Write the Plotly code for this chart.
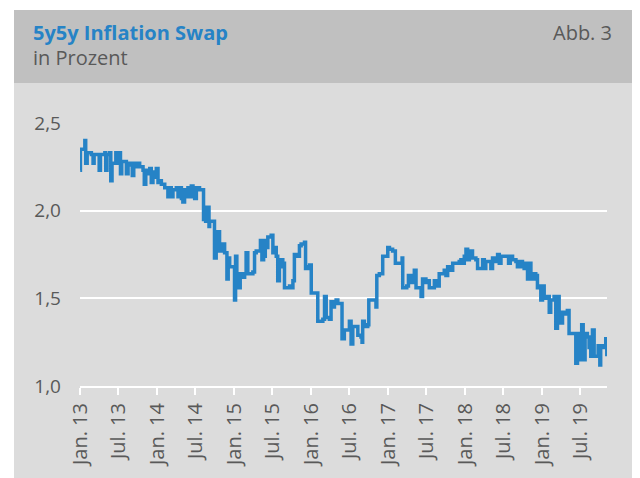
import pandas as pd
import plotly.graph_objects as go

# Data: days since 2013-01-01 at which a new level starts, and the level (%)
days = [0, 1, 22, 26, 33, 53, 61, 66, 90, 96, 117, 121, 127, 140, 145, 151, 169, 175, 184, 191,
        197, 219, 227, 243, 247, 254, 266, 274, 282, 298, 304, 311, 322, 330, 337, 345, 353, 361,
        369, 377, 385, 401, 416, 424, 432, 440, 456, 464, 472, 480, 487, 495, 503, 511, 519, 527,
        535, 543, 551, 559, 566, 585, 595, 601, 611, 614, 637, 645, 661, 669, 685, 696, 702, 709,
        732, 737, 743, 753, 759, 772, 780, 787, 795, 819, 827, 835, 855, 862, 870, 878, 885, 890,
        906, 914, 922, 930, 937, 945, 953, 961, 969, 993, 1001, 1009, 1016, 1024, 1040, 1048, 1064,
        1069, 1080, 1088, 1096, 1127, 1151, 1159, 1167, 1182, 1190, 1198, 1206, 1214, 1222, 1242,
        1253, 1277, 1285, 1293, 1317, 1332, 1337, 1340, 1348, 1364, 1369, 1403, 1407, 1419, 1435,
        1459, 1467, 1482, 1495, 1527, 1530, 1549, 1557, 1569, 1585, 1593, 1617, 1624, 1640, 1648,
        1656, 1680, 1696, 1703, 1727, 1735, 1743, 1759, 1767, 1798, 1806, 1814, 1822, 1830, 1838,
        1846, 1853, 1861, 1877, 1885, 1909, 1917, 1924, 1948, 1956, 1969, 1980, 1988, 1996, 2032,
        2040, 2051, 2067, 2074, 2082, 2098, 2106, 2114, 2122, 2130, 2138, 2145, 2153, 2161, 2169,
        2177, 2185, 2193, 2201, 2217, 2225, 2232, 2248, 2256, 2264, 2272, 2288, 2303, 2311, 2319,
        2351, 2359, 2367, 2375, 2379, 2386, 2395, 2406, 2414, 2422, 2430, 2438, 2457, 2465, 2469,
        2485, 2493, 2498]
values = [2.23, 2.35, 2.40, 2.27, 2.33, 2.32, 2.27, 2.32, 2.23, 2.32, 2.33, 2.23, 2.32, 2.33, 2.17,
          2.27, 2.33, 2.27, 2.33, 2.21, 2.28, 2.21, 2.27, 2.26, 2.20, 2.27, 2.25, 2.27, 2.25, 2.23,
          2.15, 2.23, 2.21, 2.24, 2.16, 2.22, 2.19, 2.24, 2.16, 2.17, 2.15, 2.13, 2.08, 2.13, 2.08,
          2.12, 2.13, 2.08, 2.13, 2.07, 2.05, 2.12, 2.08, 2.13, 2.08, 2.14, 2.13, 2.07, 2.12, 2.13,
          2.12, 1.95, 1.94, 2.02, 1.91, 1.94, 1.73, 1.88, 1.77, 1.81, 1.76, 1.61, 1.73, 1.68, 1.49,
          1.74, 1.63, 1.56, 1.64, 1.62, 1.64, 1.76, 1.64, 1.65, 1.76, 1.77, 1.83, 1.72, 1.74, 1.83,
          1.79, 1.85, 1.86, 1.76, 1.79, 1.74, 1.60, 1.68, 1.72, 1.70, 1.56, 1.57, 1.56, 1.60, 1.75,
          1.74, 1.80, 1.81, 1.82, 1.67, 1.68, 1.69, 1.53, 1.37, 1.38, 1.51, 1.39, 1.38, 1.48, 1.45,
          1.48, 1.49, 1.47, 1.27, 1.32, 1.37, 1.24, 1.34, 1.29, 1.28, 1.25, 1.37, 1.34, 1.35, 1.49,
          1.45, 1.63, 1.64, 1.74, 1.79, 1.78, 1.77, 1.70, 1.73, 1.56, 1.57, 1.63, 1.59, 1.66, 1.56,
          1.51, 1.61, 1.59, 1.60, 1.56, 1.60, 1.57, 1.64, 1.66, 1.63, 1.68, 1.66, 1.70, 1.71, 1.72,
          1.70, 1.74, 1.78, 1.72, 1.75, 1.77, 1.73, 1.72, 1.67, 1.72, 1.67, 1.71, 1.67, 1.73, 1.71,
          1.75, 1.70, 1.74, 1.70, 1.74, 1.72, 1.71, 1.68, 1.71, 1.68, 1.67, 1.70, 1.61, 1.70, 1.64,
          1.61, 1.64, 1.63, 1.56, 1.57, 1.49, 1.57, 1.50, 1.51, 1.42, 1.49, 1.51, 1.33, 1.51, 1.36,
          1.42, 1.41, 1.43, 1.30, 1.13, 1.30, 1.26, 1.15, 1.35, 1.15, 1.30, 1.28, 1.22, 1.17, 1.32,
          1.17, 1.23, 1.12, 1.23, 1.22, 1.27, 1.17]

tick_dates = ["2013-01-01", "2013-07-01", "2014-01-01", "2014-07-01", "2015-01-01", "2015-07-01",
              "2016-01-01", "2016-07-01", "2017-01-01", "2017-07-01", "2018-01-01", "2018-07-01",
              "2019-01-01", "2019-07-01"]
tick_labels = ["Jan. 13", "Jul. 13", "Jan. 14", "Jul. 14", "Jan. 15", "Jul. 15", "Jan. 16",
               "Jul. 16", "Jan. 17", "Jul. 17", "Jan. 18", "Jul. 18", "Jan. 19", "Jul. 19"]
y_ticks = [1.0, 1.5, 2.0, 2.5]

dates = pd.Timestamp("2013-01-01") + pd.to_timedelta(days, unit="D")

BLUE = "#2683C6"
TXT = "#595959"
FONT = "Open Sans"

# The page places the figure 8px from the top-left corner, so layout is in figure px (= screen px - 8)
W, H = 640, 478
ML, MR, MT, MB = 72, 41, 115, 100
plot_w = W - ML - MR
plot_h = H - MT - MB


def px_x(px):
    return (px - 8 - ML) / plot_w


def px_y(py):
    return (H - MB - (py - 8)) / plot_h


fig = go.Figure()
fig.add_trace(go.Scatter(x=dates, y=values, mode="lines", line=dict(color=BLUE, width=3.5, shape="hv"),
                         hoverinfo="skip", showlegend=False))

fig.update_layout(
    width=W, height=H,
    margin=dict(l=ML, r=MR, t=MT, b=MB),
    paper_bgcolor="white",
    plot_bgcolor="rgba(0,0,0,0)",
    separators=",.",
    font=dict(family=FONT, color=TXT),
)

fig.add_shape(type="rect", xref="paper", yref="paper", x0=px_x(14), x1=px_x(660), y0=px_y(500), y1=px_y(83),
              layer="below", line=dict(width=0), fillcolor="#DCDCDC")
fig.add_shape(type="rect", xref="paper", yref="paper", x0=px_x(14), x1=px_x(660), y0=px_y(83), y1=px_y(10),
              layer="below", line=dict(width=0), fillcolor="#C0C0C0")

fig.add_annotation(text="<b>5y5y Inflation Swap</b>", xref="paper", yref="paper", x=px_x(31), y=px_y(33),
                   xanchor="left", yanchor="middle", showarrow=False, font=dict(size=20, color=BLUE, family=FONT))
fig.add_annotation(text="in Prozent", xref="paper", yref="paper", x=px_x(31), y=px_y(57),
                   xanchor="left", yanchor="middle", showarrow=False, font=dict(size=20, color=TXT, family=FONT))
fig.add_annotation(text="Abb. 3", xref="paper", yref="paper", x=px_x(614), y=px_y(33),
                   xanchor="right", yanchor="middle", showarrow=False, font=dict(size=20, color=TXT, family=FONT))

fig.update_xaxes(
    type="date",
    range=[pd.Timestamp("2012-12-31"), pd.Timestamp("2013-01-01") + pd.Timedelta(days=2499)],
    tickmode="array", tickvals=tick_dates, ticktext=tick_labels, tickangle=-90,
    ticks="outside", ticklen=7, tickwidth=2, tickcolor="white",
    showline=True, linecolor="white", linewidth=2,
    showgrid=False, zeroline=False,
    tickfont=dict(size=20, color=TXT, family=FONT),
)
fig.update_yaxes(
    range=[1.0, 2.5], tickmode="array", tickvals=y_ticks, tickformat=".1f",
    showgrid=True, gridcolor="white", gridwidth=2, zeroline=False,
    ticks="", ticklabelstandoff=18,
    tickfont=dict(size=19, color=TXT, family=FONT),
)

fig.write_html("out.html")
